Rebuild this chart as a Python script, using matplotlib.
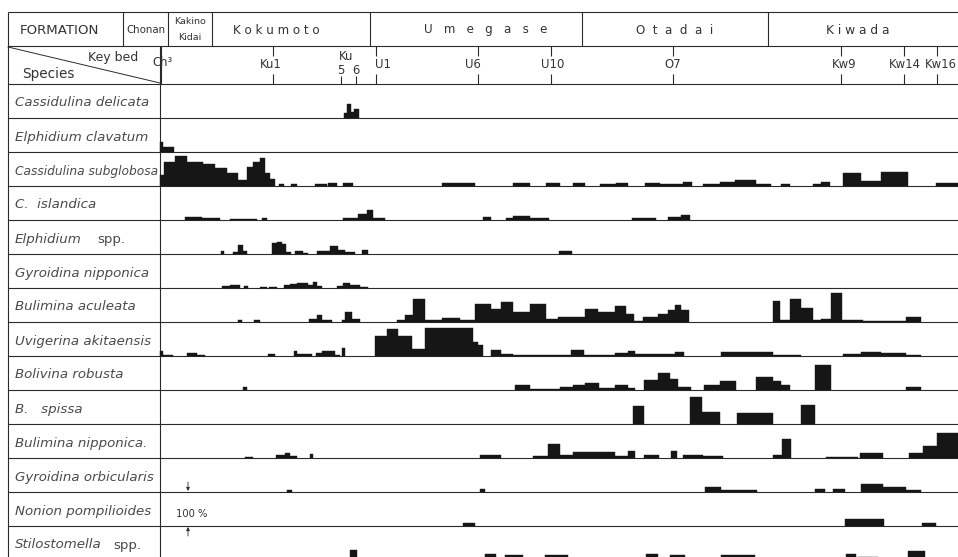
import matplotlib
matplotlib.use("Agg")
import matplotlib.pyplot as plt

# ---------------- data (section position along composite column, abundance %) ----------------
formation_names = ["Chonan", "Kakino\nKidai", "K o k u m o t o", "U   m   e   g   a   s   e",
                   "O  t  a  d  a  i", "K i w a d a"]
formation_edges = [123, 168, 212, 370, 582, 768, 958]

key_bed_labels = ["Ch³", "Ku1", "Ku5", "Ku6", "U1", "U6", "U10", "O7", "Kw9", "Kw14", "Kw16"]
key_bed_pos = [161, 273, 341, 356, 376, 478, 551, 673, 841, 904, 937]

species = ["Cassidulina delicata", "Elphidium clavatum", "Cassidulina subglobosa", "C.  islandica",
           "Elphidium", "Gyroidina nipponica", "Bulimina aculeata", "Uvigerina akitaensis",
           "Bolivina robusta", "B.   spissa", "Bulimina nipponica.", "Gyroidina orbicularis",
           "Nonion pompilioides", "Stilostomella"]
species_suffix = ["", "", "", "", "spp.", "", "", "", "", "", "", "", "", "spp."]

# (start, end, percent)
cassidulina_delicata = [(344, 347, 15), (347, 351, 42), (351, 354, 18), (354, 359, 27)]
elphidium_clavatum = [(160, 163, 30), (163, 174, 15)]
cassidulina_subglobosa = [(160, 164, 33), (164, 175, 72), (175, 187, 87), (187, 203, 72), (203, 215, 66),
                          (215, 227, 54), (227, 238, 39), (238, 247, 18), (247, 253, 57), (253, 260, 72),
                          (260, 265, 81), (265, 270, 39), (270, 275, 21), (279, 284, 6), (291, 297, 6),
                          (315, 327, 6), (328, 337, 9), (343, 353, 8), (442, 475, 8), (513, 530, 9),
                          (546, 560, 9), (573, 585, 8), (600, 616, 5), (616, 628, 9), (645, 660, 9),
                          (660, 683, 5), (683, 692, 12), (703, 720, 5), (720, 735, 12), (735, 756, 18),
                          (756, 771, 6), (781, 790, 6), (813, 821, 6), (821, 830, 12), (843, 861, 38),
                          (861, 881, 15), (881, 908, 40), (936, 958, 8)]
c_islandica = [(185, 202, 10), (202, 220, 6), (230, 257, 3), (262, 267, 6), (343, 358, 6), (358, 367, 18),
               (367, 373, 30), (373, 385, 6), (483, 491, 8), (506, 513, 6), (513, 530, 12), (530, 549, 5),
               (632, 656, 6), (668, 681, 8), (681, 690, 15)]
elphidium_spp = [(221, 224, 9), (233, 238, 6), (238, 243, 27), (243, 247, 9), (272, 277, 33), (277, 282, 36),
                 (282, 286, 30), (286, 291, 6), (295, 303, 9), (303, 308, 3), (317, 330, 9), (330, 338, 24),
                 (338, 345, 12), (345, 355, 6), (362, 368, 12), (559, 572, 9)]
gyroidina_nipponica = [(222, 230, 5), (230, 240, 8), (244, 248, 5), (260, 267, 3), (269, 277, 3), (284, 290, 9),
                       (290, 297, 12), (297, 308, 15), (308, 313, 9), (313, 317, 18), (317, 322, 5),
                       (337, 343, 6), (343, 350, 15), (350, 360, 9), (360, 368, 3)]
bulimina_aculeata = [(238, 242, 6), (254, 260, 6), (309, 317, 9), (317, 322, 21), (322, 332, 6), (342, 345, 6),
                     (345, 352, 30), (352, 360, 9), (397, 405, 6), (405, 413, 21), (413, 425, 68), (425, 442, 6),
                     (442, 460, 12), (460, 475, 6), (475, 491, 54), (491, 501, 39), (501, 513, 60),
                     (513, 530, 30), (530, 546, 54), (546, 558, 9), (558, 585, 15), (585, 598, 39),
                     (598, 615, 30), (615, 626, 48), (626, 634, 24), (634, 643, 3), (643, 658, 15),
                     (658, 668, 24), (668, 675, 36), (675, 681, 51), (681, 689, 36), (773, 780, 63),
                     (780, 790, 6), (790, 801, 69), (801, 813, 42), (813, 821, 6), (821, 831, 9),
                     (831, 842, 84), (842, 863, 6), (863, 906, 2), (906, 921, 15)]
uvigerina_akitaensis = [(160, 163, 15), (163, 173, 3), (187, 197, 9), (197, 205, 3), (268, 275, 6),
                        (294, 297, 15), (297, 312, 6), (316, 322, 9), (322, 335, 15), (335, 340, 3),
                        (342, 345, 24), (375, 387, 60), (387, 398, 78), (398, 412, 60), (412, 425, 21),
                        (425, 473, 81), (473, 478, 42), (478, 483, 33), (491, 501, 18), (501, 513, 5),
                        (513, 571, 2), (571, 584, 18), (584, 615, 2), (615, 628, 8), (628, 635, 15),
                        (635, 675, 6), (675, 684, 12), (721, 773, 11), (773, 801, 3), (843, 861, 5),
                        (861, 881, 12), (881, 906, 8), (906, 921, 3)]
bolivina_robusta = [(243, 247, 9), (515, 530, 15), (530, 560, 3), (560, 573, 9), (573, 585, 15), (585, 599, 21),
                    (599, 615, 6), (615, 628, 15), (628, 635, 6), (644, 658, 30), (658, 670, 51),
                    (670, 678, 33), (678, 691, 9), (704, 720, 15), (720, 736, 27), (756, 773, 39),
                    (773, 781, 27), (781, 790, 15), (815, 831, 75), (906, 921, 9)]
b_spissa = [(633, 644, 54), (690, 702, 78), (702, 720, 36), (737, 773, 33), (801, 815, 57)]
bulimina_nipponica = [(245, 253, 3), (276, 285, 9), (285, 290, 15), (290, 297, 6), (310, 313, 12),
                      (480, 501, 8), (533, 548, 6), (548, 560, 42), (560, 573, 9), (573, 615, 18),
                      (615, 628, 6), (628, 635, 21), (644, 659, 9), (671, 677, 21), (683, 703, 9),
                      (703, 723, 5), (773, 782, 9), (782, 791, 57), (826, 858, 3), (860, 883, 15),
                      (909, 923, 15), (923, 937, 36), (937, 958, 75)]
gyroidina_orbicularis = [(287, 292, 6), (480, 485, 9), (705, 721, 15), (721, 757, 6), (815, 825, 9),
                         (833, 845, 9), (861, 883, 24), (883, 906, 15), (906, 921, 6)]
nonion_pompilioides = [(463, 475, 9), (845, 884, 21), (922, 936, 9)]
stilostomella_spp = [(350, 357, 30), (485, 496, 18), (505, 523, 15), (545, 568, 15), (646, 658, 18),
                     (670, 685, 15), (721, 755, 15), (846, 856, 18), (858, 878, 9), (908, 925, 27)]

series = [cassidulina_delicata, elphidium_clavatum, cassidulina_subglobosa, c_islandica, elphidium_spp,
          gyroidina_nipponica, bulimina_aculeata, uvigerina_akitaensis, bolivina_robusta, b_spissa,
          bulimina_nipponica, gyroidina_orbicularis, nonion_pompilioides, stilostomella_spp]

# ---------------- layout (pixels) ----------------
W, H = 958, 557
LEFT, TOP, FORM_BOT, KEY_BOT, LAB_R = 8, 12, 46, 84, 160
ROW_H = 34
X_MIN, X_MAX = 160, 958
LC = "#2b2b2b"
LW = 0.8

fig = plt.figure(figsize=(W / 100, H / 100), dpi=100)
fig.patch.set_facecolor("white")
bg = fig.add_axes([0, 0, 1, 1])
bg.set_xlim(0, W)
bg.set_ylim(H, 0)
bg.axis("off")

# table frame
bg.hlines([TOP, FORM_BOT, KEY_BOT], LEFT, W, color=LC, lw=LW)
bg.vlines(LEFT, TOP, H, color=LC, lw=LW)
bg.vlines(LAB_R, FORM_BOT, H, color=LC, lw=LW)
bg.vlines(formation_edges[:-1], TOP, FORM_BOT, color=LC, lw=LW)
bg.plot([LEFT, LAB_R], [FORM_BOT + 1, KEY_BOT - 1], color=LC, lw=0.7)

tc = "#333333"
bg.text(20, 30, "FORMATION", fontsize=9.6, color=tc, va="center", ha="left")
name_center = {"K o k u m o t o": (276, 8.6), "U   m   e   g   a   s   e": (486, 8.6),
               "O  t  a  d  a  i": (675, 8.6), "K i w a d a": (858, 8.8)}
for i, name in enumerate(formation_names):
    cx = (formation_edges[i] + formation_edges[i + 1]) / 2
    if "\n" in name:
        top, bot = name.split("\n")
        bg.text(cx, 22, top, fontsize=6.8, color=tc, ha="center", va="center")
        bg.text(cx, 37, bot, fontsize=6.8, color=tc, ha="center", va="center")
    elif name in name_center:
        x, fs = name_center[name]
        bg.text(x, 30, name, fontsize=fs, color=tc, ha="center", va="center")
    else:
        bg.text(cx, 30, name, fontsize=7.4, color=tc, ha="center", va="center")

bg.text(88, 57, "Key bed", fontsize=9.0, color=tc, ha="left", va="center")
bg.text(22, 74, "Species", fontsize=9.8, color=tc, ha="left", va="center")

# key bed ticks and labels
for lab, p in zip(key_bed_labels, key_bed_pos):
    if lab == "Ch³":
        bg.vlines(p, FORM_BOT, KEY_BOT, color=LC, lw=LW)
        bg.text(p + 2, 63, lab, fontsize=8.4, color=tc, ha="center", va="center")
    elif lab in ("Ku5", "Ku6"):
        bg.vlines(p, 76, KEY_BOT, color=LC, lw=LW)
        bg.text(p, 70, lab[2:], fontsize=8.4, color=tc, ha="center", va="center")
    else:
        bg.vlines(p, FORM_BOT, 56, color=LC, lw=LW)
        bg.vlines(p, 74, KEY_BOT, color=LC, lw=LW)
        off = {"U1": 7, "Ku1": -2, "U6": -5, "U10": 2, "O7": 0, "Kw9": 3, "Kw14": 1, "Kw16": 4}[lab]
        bg.text(p + off, 64, lab, fontsize=8.4, color=tc, ha="center", va="center")
bg.text((key_bed_pos[2] + key_bed_pos[3]) / 2 - 2, 57, "Ku", fontsize=8.4, color=tc, ha="center", va="center")

# species rows
baselines = [118 + ROW_H * i for i in range(len(species))]
bg.hlines(baselines, LEFT, W, color=LC, lw=LW)
lab_c = "#4a4a4a"
for i, (name, suf) in enumerate(zip(species, species_suffix)):
    y = baselines[i] - 15
    fs = 8.8 if name == "Cassidulina subglobosa" else 9.6
    bg.text(15, y, name, fontsize=fs, style="italic", color=lab_c, ha="left", va="center")
    if suf:
        sx = {"Elphidium": 97, "Stilostomella": 113}[name]
        bg.text(sx, y + 1, suf, fontsize=9.6, color=lab_c, ha="left", va="center")

    ax = fig.add_axes([LAB_R / W, 1 - baselines[i] / H, (X_MAX - X_MIN) / W, ROW_H / H])
    ax.set_xlim(X_MIN, X_MAX)
    ax.set_ylim(0, 100)
    ax.axis("off")
    data = series[i]
    starts = [d[0] for d in data]
    widths = [d[1] - d[0] for d in data]
    vals = [d[2] for d in data]
    ax.bar(starts, vals, width=widths, align="edge", color="#161616",
           edgecolor="#161616", linewidth=0.3, clip_on=False)

# 100 % scale marker
bg.annotate("", xy=(188, baselines[11] - 1), xytext=(188, baselines[11] - 10),
            arrowprops=dict(arrowstyle="-|>", color=LC, lw=0.6, mutation_scale=5, shrinkA=0, shrinkB=0))
bg.annotate("", xy=(188, baselines[12] + 1), xytext=(188, baselines[12] + 10),
            arrowprops=dict(arrowstyle="-|>", color=LC, lw=0.6, mutation_scale=5, shrinkA=0, shrinkB=0))
bg.text(176, baselines[12] - 12, "100 %", fontsize=7.2, color=tc, ha="left", va="center")

fig.savefig("out.png", dpi=100, facecolor="white")
